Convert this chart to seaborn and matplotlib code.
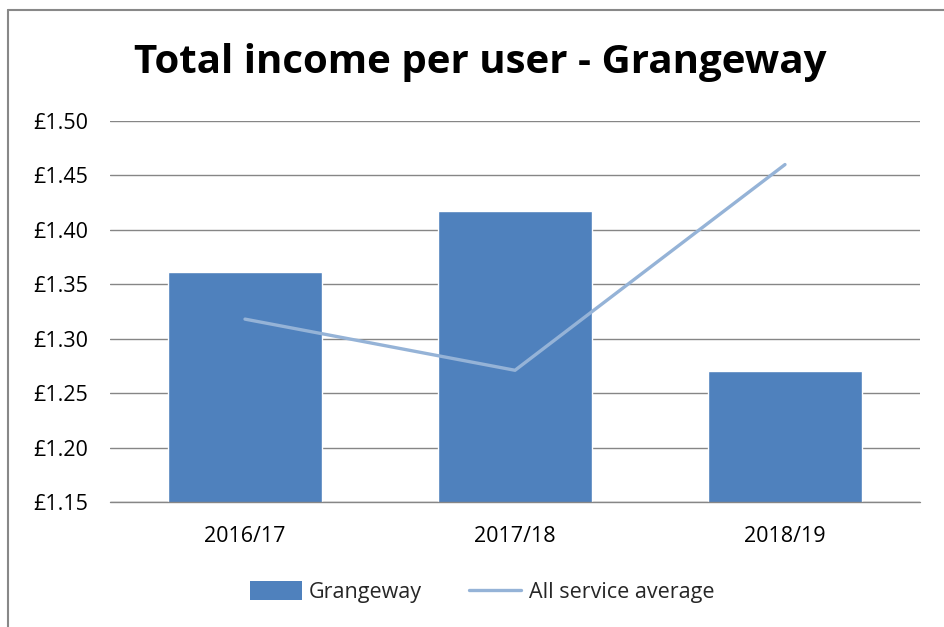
import matplotlib
matplotlib.use("Agg")
import matplotlib.pyplot as plt
from matplotlib.lines import Line2D
from matplotlib.patches import Patch
import seaborn as sns
import pandas as pd

categories = ["2016/17", "2017/18", "2018/19"]
grangeway = [1.361, 1.417, 1.270]
service_avg = [1.318, 1.271, 1.460]
yticks = [1.15, 1.20, 1.25, 1.30, 1.35, 1.40, 1.45, 1.50]
ytick_labels = ["£1.15", "£1.20", "£1.25", "£1.30", "£1.35", "£1.40", "£1.45", "£1.50"]
title = "Total income per user - Grangeway"

df = pd.DataFrame({"year": categories, "Grangeway": grangeway, "avg": service_avg})

sns.set_style("white")
plt.rcParams['font.family'] = ['Open Sans', 'DejaVu Sans']

fig = plt.figure(figsize=(9.45, 6.27), dpi=100)
ax = fig.add_axes([110/945, 1-502/627, 810/945, 381/627])

bar_color = "#4F81BD"
line_color = "#95B3D7"

sns.barplot(data=df, x="year", y="Grangeway", color=bar_color, width=0.574,
            saturation=1, ax=ax, zorder=2)
sns.lineplot(x=[0, 1, 2], y=service_avg, color=line_color, linewidth=2.4, ax=ax,
             zorder=3)

ax.set_xlim(-0.5, 2.5)
ax.set_ylim(1.15, 1.50)
ax.set_yticks(yticks)
ax.set_yticklabels(ytick_labels)
ax.set_xticks([0, 1, 2])
ax.set_xticklabels(categories)
ax.set_xlabel("")
ax.set_ylabel("")
ax.grid(axis="y", color="#868686", linewidth=1.0, zorder=0)
ax.set_axisbelow(True)
ax.axhline(1.15, color="#868686", linewidth=1.0, clip_on=False, zorder=4)
for s in ax.spines.values():
    s.set_visible(False)
ax.tick_params(axis="y", length=0, pad=16, labelsize=15.5, labelcolor="#000000")
ax.tick_params(axis="x", length=0, pad=17, labelsize=15.5, labelcolor="#000000")

fig.text(480/945, 1-62/627, title, ha="center", va="center", fontsize=29,
         fontweight="bold", color="#000000")

handles = [Patch(facecolor=bar_color, edgecolor="none", label="Grangeway"),
           Line2D([0], [0], color=line_color, linewidth=2.4, label="All service average")]
fig.legend(handles=handles, loc="center", bbox_to_anchor=(482/945, 1-592/627),
           ncol=2, frameon=False, fontsize=15.5, handlelength=2.4, handleheight=1.0,
           columnspacing=2.2, handletextpad=0.35)

# outer border (top and left)
fig.add_artist(Line2D([8.5/945, 1], [1-9.5/627, 1-9.5/627], transform=fig.transFigure,
                      color="#888888", linewidth=1.5))
fig.add_artist(Line2D([8.5/945, 8.5/945], [0, 1-9.5/627], transform=fig.transFigure,
                      color="#888888", linewidth=1.5))

fig.savefig("out.png", dpi=100, facecolor="white")
